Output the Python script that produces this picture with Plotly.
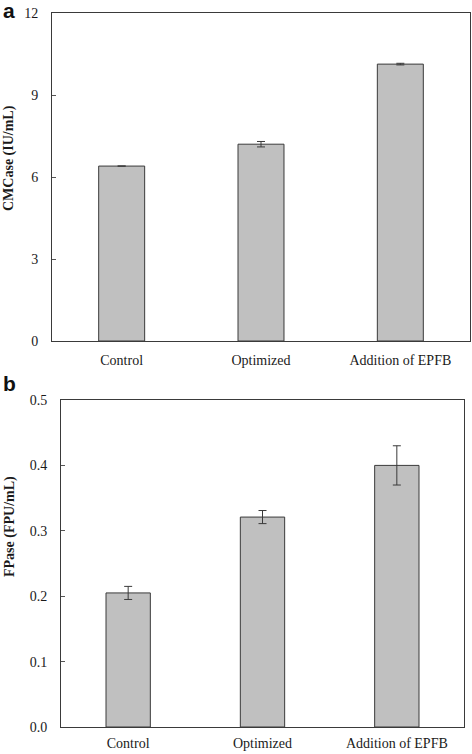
import plotly.graph_objects as go

categories = ["Control", "Optimized", "Addition of EPFB"]
cmcase_values = [6.40, 7.20, 10.13]
cmcase_errors = [0.0, 0.10, 0.03]
fpase_values = [0.205, 0.321, 0.400]
fpase_errors = [0.010, 0.010, 0.030]
cmcase_ticks = [0, 3, 6, 9, 12]
fpase_ticks = [0.0, 0.1, 0.2, 0.3, 0.4, 0.5]

W, H = 472, 754
BAR_FILL = "#c0c0c0"
EDGE = "#3a3a3a"
SERIF = "Liberation Serif, Times New Roman, serif"

fig = go.Figure()
fig.add_trace(go.Bar(
    x=categories, y=cmcase_values, xaxis="x", yaxis="y",
    marker=dict(color=BAR_FILL, line=dict(color=EDGE, width=1)),
    error_y=dict(type="data", array=cmcase_errors, visible=True,
                 color=EDGE, thickness=1, width=4),
    showlegend=False,
))
fig.add_trace(go.Bar(
    x=categories, y=fpase_values, xaxis="x2", yaxis="y2",
    marker=dict(color=BAR_FILL, line=dict(color=EDGE, width=1)),
    error_y=dict(type="data", array=fpase_errors, visible=True,
                 color=EDGE, thickness=1, width=4),
    showlegend=False,
))

def px_x(p):
    return p / W

def px_y(p):
    return 1 - p / H

axis_common = dict(showline=True, linecolor=EDGE, linewidth=1, mirror=True,
                   showgrid=False, zeroline=False, automargin=False,
                   tickfont=dict(family=SERIF, size=14, color="#1a1a1a"))

fig.update_layout(
    template="none",
    width=W, height=H,
    margin=dict(l=0, r=0, t=0, b=0),
    paper_bgcolor="white", plot_bgcolor="white",
    bargap=0.67,
    xaxis=dict(domain=[px_x(52), px_x(470)], anchor="y", ticks="",
               ticklabelstandoff=6, **axis_common),
    yaxis=dict(domain=[px_y(341), px_y(13)], anchor="x", range=[0, 12],
               tickvals=cmcase_ticks, ticks="inside", ticklen=4,
               ticklabelstandoff=10, tickcolor="#555", **axis_common),
    xaxis2=dict(domain=[px_x(61), px_x(464)], anchor="y2", ticks="",
                ticklabelstandoff=3, **axis_common),
    yaxis2=dict(domain=[px_y(727), px_y(400)], anchor="x2", range=[0, 0.5],
                tickvals=fpase_ticks, tickformat=".1f", ticks="inside",
                ticklen=4, ticklabelstandoff=10, tickcolor="#555", **axis_common),
    annotations=[
        dict(text="<b>a</b>", x=px_x(1), y=px_y(-3), xref="paper", yref="paper",
             xanchor="left", yanchor="top", showarrow=False,
             font=dict(family="Liberation Sans, Arial, sans-serif", size=21, color="#111")),
        dict(text="<b>b</b>", x=px_x(1), y=px_y(370), xref="paper", yref="paper",
             xanchor="left", yanchor="top", showarrow=False,
             font=dict(family="Liberation Sans, Arial, sans-serif", size=21, color="#111")),
        dict(text="<b>CMCase (IU/mL)</b>", x=px_x(9), y=px_y(158), xref="paper", yref="paper",
             xanchor="center", yanchor="middle", textangle=-90, showarrow=False,
             font=dict(family=SERIF, size=14, color="#1a1a1a")),
        dict(text="<b>FPase (FPU/mL)</b>", x=px_x(10), y=px_y(527), xref="paper", yref="paper",
             xanchor="center", yanchor="middle", textangle=-90, showarrow=False,
             font=dict(family=SERIF, size=14, color="#1a1a1a")),
    ],
)

fig.write_html(
    "out.html",
    config={"displayModeBar": False},
    post_script="document.body.style.margin='0';document.body.style.overflow='hidden';",
)
